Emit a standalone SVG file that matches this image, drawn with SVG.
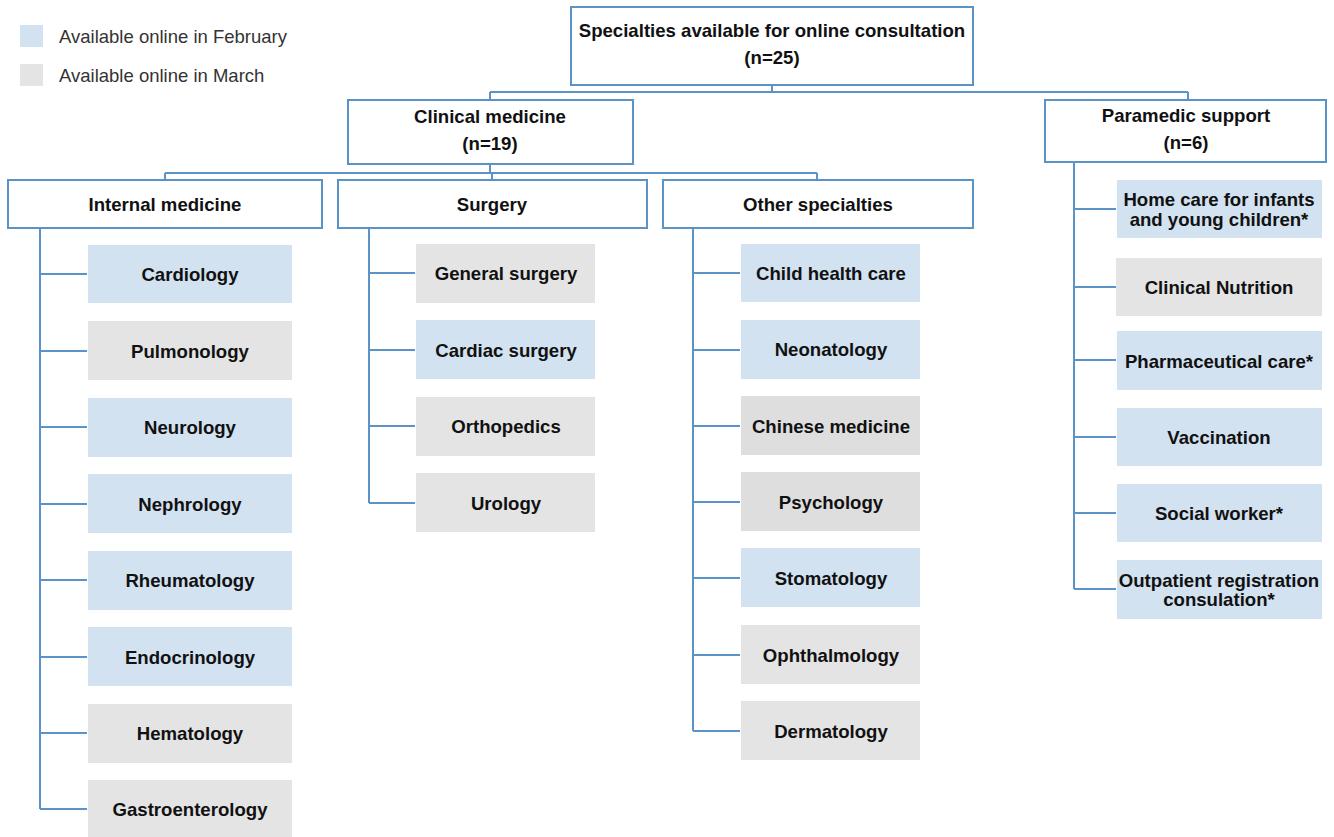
<svg xmlns="http://www.w3.org/2000/svg" width="1334" height="837" viewBox="0 0 1334 837">
<style>
.hdr{fill:#fff;stroke:#5b93c7;stroke-width:2}
.feb{fill:#d2e2f0}
.mar{fill:#e4e4e4}
.mar2{fill:#dedede}
.t{font-family:"Liberation Sans",Arial,sans-serif;font-weight:bold;font-size:18.6px;fill:#111;text-anchor:middle;dominant-baseline:central}
.lg{font-family:"Liberation Sans",Arial,sans-serif;font-size:18.5px;fill:#333;dominant-baseline:central}
.c{fill:none;stroke:#5b93c7;stroke-width:2}
</style>
<rect width="1334" height="837" fill="#fff"/>
<g id="legend">
<rect x="20" y="25" width="23" height="22" class="feb"/>
<text x="59" y="36" class="lg">Available online in February</text>
<rect x="20" y="64" width="23" height="22" class="mar"/>
<text x="59" y="75" class="lg">Available online in March</text>
</g>
<g id="connectors" class="c">
<path d="M772 85V92M490 92H1188M490 92V100M1188 92V100"/>
<path d="M490 164V173M165 173H817M165 173V180M492 173V180M817 173V180"/>
<path d="M40 228V809M40 274H87M40 351H87M40 427H87M40 504H87M40 580H87M40 657H87M40 733H87M40 809H87"/>
<path d="M369 228V503M369 273H415M369 350H415M369 426H415M369 503H415"/>
<path d="M693 228V731M693 273H740M693 350H740M693 426H740M693 502H740M693 578H740M693 655H740M693 731H740"/>
<path d="M1074 162V589M1074 209H1116M1074 287H1116M1074 360H1116M1074 437H1116M1074 513H1116M1074 589H1116"/>
</g>
<g id="root"><rect x="571" y="7" width="402" height="78" class="hdr"/><text x="772" y="30" class="t">Specialties available for online consultation</text><text x="772" y="57" class="t">(n=25)</text></g>
<g id="clinical"><rect x="348" y="100" width="285" height="64" class="hdr"/><text x="490" y="116" class="t">Clinical medicine</text><text x="490" y="143" class="t">(n=19)</text></g>
<g id="paramedic"><rect x="1045" y="100" width="281" height="62" class="hdr"/><text x="1186" y="115" class="t">Paramedic support</text><text x="1186" y="142" class="t">(n=6)</text></g>
<g id="internal"><rect x="8" y="180" width="314" height="48" class="hdr"/><text x="165" y="204" class="t">Internal medicine</text></g>
<g id="surgery"><rect x="338" y="180" width="309" height="48" class="hdr"/><text x="492" y="204" class="t">Surgery</text></g>
<g id="other"><rect x="663" y="180" width="310" height="48" class="hdr"/><text x="818" y="204" class="t">Other specialties</text></g>
<g id="cardiology"><rect x="88" y="245" width="204" height="58" class="feb"/><text x="190" y="274" class="t">Cardiology</text></g>
<g id="pulmonology"><rect x="88" y="321" width="204" height="59" class="mar"/><text x="190" y="351" class="t">Pulmonology</text></g>
<g id="neurology"><rect x="88" y="398" width="204" height="59" class="feb"/><text x="190" y="427" class="t">Neurology</text></g>
<g id="nephrology"><rect x="88" y="474" width="204" height="59" class="feb"/><text x="190" y="504" class="t">Nephrology</text></g>
<g id="rheumatology"><rect x="88" y="551" width="204" height="59" class="feb"/><text x="190" y="580" class="t">Rheumatology</text></g>
<g id="endocrinology"><rect x="88" y="627" width="204" height="59" class="feb"/><text x="190" y="657" class="t">Endocrinology</text></g>
<g id="hematology"><rect x="88" y="704" width="204" height="59" class="mar"/><text x="190" y="733" class="t">Hematology</text></g>
<g id="gastroenterology"><rect x="88" y="780" width="204" height="57" class="mar"/><text x="190" y="809" class="t">Gastroenterology</text></g>
<g id="general-surgery"><rect x="416" y="244" width="179" height="59" class="mar"/><text x="506" y="273" class="t">General surgery</text></g>
<g id="cardiac-surgery"><rect x="416" y="320" width="179" height="59" class="feb"/><text x="506" y="350" class="t">Cardiac surgery</text></g>
<g id="orthopedics"><rect x="416" y="397" width="179" height="59" class="mar"/><text x="506" y="426" class="t">Orthopedics</text></g>
<g id="urology"><rect x="416" y="473" width="179" height="59" class="mar"/><text x="506" y="503" class="t">Urology</text></g>
<g id="child-health"><rect x="741" y="244" width="179" height="58" class="feb"/><text x="831" y="273" class="t">Child health care</text></g>
<g id="neonatology"><rect x="741" y="320" width="179" height="59" class="feb"/><text x="831" y="349" class="t">Neonatology</text></g>
<g id="chinese-medicine"><rect x="741" y="396" width="179" height="59" class="mar2"/><text x="831" y="426" class="t">Chinese medicine</text></g>
<g id="psychology"><rect x="741" y="472" width="179" height="59" class="mar2"/><text x="831" y="502" class="t">Psychology</text></g>
<g id="stomatology"><rect x="741" y="548" width="179" height="59" class="feb"/><text x="831" y="578" class="t">Stomatology</text></g>
<g id="ophthalmology"><rect x="741" y="625" width="179" height="59" class="mar"/><text x="831" y="655" class="t">Ophthalmology</text></g>
<g id="dermatology"><rect x="741" y="701" width="179" height="59" class="mar"/><text x="831" y="731" class="t">Dermatology</text></g>
<g id="home-care"><rect x="1117" y="180" width="205" height="58" class="feb"/><text x="1219" y="199" class="t">Home care for infants</text><text x="1219" y="219" class="t">and young children*</text></g>
<g id="clinical-nutrition"><rect x="1116" y="258" width="206" height="58" class="mar"/><text x="1219" y="287" class="t">Clinical Nutrition</text></g>
<g id="pharmaceutical-care"><rect x="1117" y="331" width="205" height="59" class="feb"/><text x="1219" y="361" class="t">Pharmaceutical care*</text></g>
<g id="vaccination"><rect x="1117" y="408" width="205" height="58" class="feb"/><text x="1219" y="437" class="t">Vaccination</text></g>
<g id="social-worker"><rect x="1117" y="484" width="205" height="58" class="feb"/><text x="1219" y="513" class="t">Social worker*</text></g>
<g id="outpatient"><rect x="1117" y="560" width="205" height="59" class="feb"/><text x="1219" y="580" class="t">Outpatient registration</text><text x="1219" y="599" class="t">consulation*</text></g>
</svg>
